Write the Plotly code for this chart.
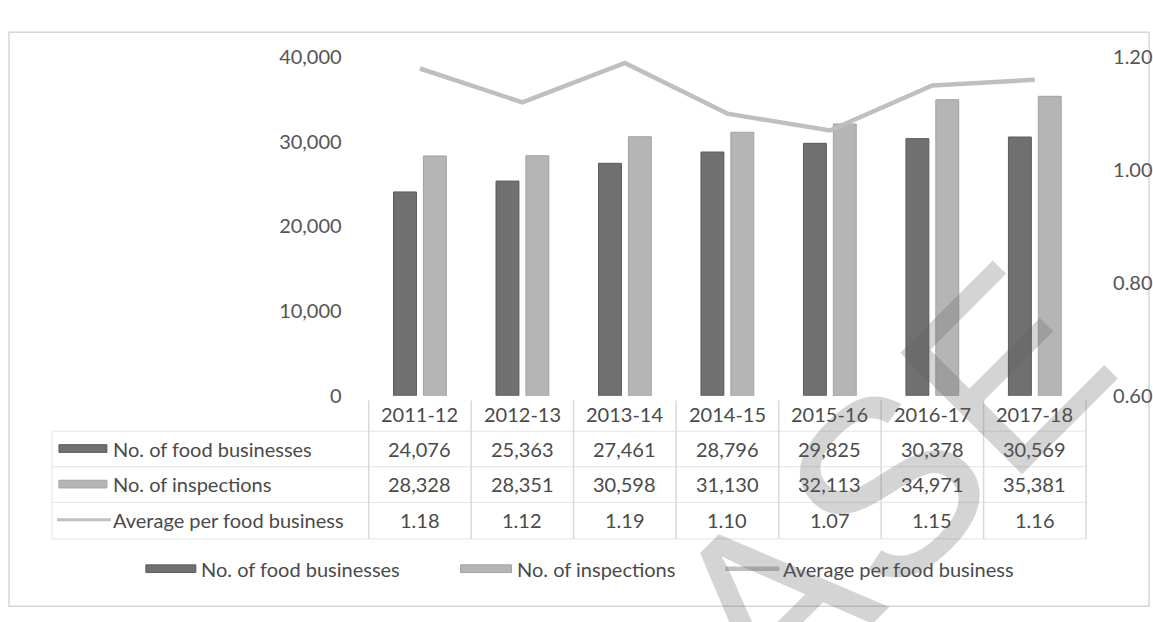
import plotly.graph_objects as go

# ---- data ----
years = ["2011-12", "2012-13", "2013-14", "2014-15", "2015-16", "2016-17", "2017-18"]
food_businesses = [24076, 25363, 27461, 28796, 29825, 30378, 30569]
inspections = [28328, 28351, 30598, 31130, 32113, 34971, 35381]
avg_per_business = [1.18, 1.12, 1.19, 1.10, 1.07, 1.15, 1.16]

series_names = ["No. of food businesses", "No. of inspections", "Average per food business"]
left_ticks = [0, 10000, 20000, 30000, 40000]
right_ticks = [0.60, 0.80, 1.00, 1.20]

# ---- styling ----
W, H = 1153, 622
FONT = "Lato"
FS = 20
TXT = "#4a4a4a"
DARK = "#707070"
DARK_EDGE = "#5a5a5a"
LIGHT = "#b5b5b5"
LIGHT_EDGE = "#a2a2a2"
LINE = "#bfbfbf"
GRID = "#e4e4e4"


def px(x):
    return x / W


def py(y):
    return 1 - y / H


PLOT_L, PLOT_R, PLOT_T, PLOT_B = 369, 1087, 46, 398

fig = go.Figure()
fig.add_trace(go.Bar(x=years, y=food_businesses, name=series_names[0],
                     marker=dict(color=DARK, line=dict(color=DARK_EDGE, width=1))))
fig.add_trace(go.Bar(x=years, y=inspections, name=series_names[1],
                     marker=dict(color=LIGHT, line=dict(color=LIGHT_EDGE, width=1))))
fig.add_trace(go.Scatter(x=years, y=avg_per_business, name=series_names[2], yaxis="y2",
                         mode="lines", line=dict(color=LINE, width=4.5)))

shapes = []
annotations = []

# outer chart frame
shapes.append(dict(type="rect", xref="paper", yref="paper",
                   x0=px(9), x1=px(1150), y0=py(617), y1=py(20),
                   line=dict(color="#d6d6d6", width=1.5), layer="below"))

# ---- data table under the plot ----
row_y = [417, 453, 490, 527]
h_lines = [435, 472, 509, 547]
for yy in h_lines:
    shapes.append(dict(type="line", xref="paper", yref="paper",
                       x0=px(52), x1=px(PLOT_R), y0=py(yy), y1=py(yy),
                       line=dict(color=GRID, width=1)))
shapes.append(dict(type="line", xref="paper", yref="paper",
                   x0=px(52), x1=px(52), y0=py(435), y1=py(547),
                   line=dict(color=GRID, width=1)))
col_w = (PLOT_R - PLOT_L) / len(years)
for i in range(len(years) + 1):
    xx = PLOT_L + i * col_w
    shapes.append(dict(type="line", xref="paper", yref="paper",
                       x0=px(xx), x1=px(xx), y0=py(403), y1=py(547),
                       line=dict(color="#d9d9d9", width=1.5)))

table_rows = [
    years,
    [f"{v:,}" for v in food_businesses],
    [f"{v:,}" for v in inspections],
    [f"{v:.2f}" for v in avg_per_business],
]
for r, vals in enumerate(table_rows):
    for i, t in enumerate(vals):
        annotations.append(dict(x=years[i], xref="x", y=py(row_y[r]), yref="paper",
                                text=t, showarrow=False, xanchor="center", yanchor="middle",
                                font=dict(family=FONT, size=FS, color=TXT)))

# row labels with series keys
for r, name in enumerate(series_names):
    yy = row_y[r + 1]
    if r < 2:
        col, edge = (DARK, DARK_EDGE) if r == 0 else (LIGHT, LIGHT_EDGE)
        shapes.append(dict(type="rect", xref="paper", yref="paper",
                           x0=px(59), x1=px(107), y0=py(yy + 4), y1=py(yy - 4),
                           fillcolor=col, line=dict(color=edge, width=1)))
    else:
        shapes.append(dict(type="line", xref="paper", yref="paper",
                           x0=px(57), x1=px(111), y0=py(yy), y1=py(yy),
                           line=dict(color=LINE, width=3)))
    annotations.append(dict(x=px(111), xref="paper", y=py(yy), yref="paper",
                            text=name, showarrow=False, xanchor="left", yanchor="middle",
                            font=dict(family=FONT, size=FS, color=TXT)))

# ---- legend row ----
legend_y = 578
legend_keys = [(146, 196, 199), (461, 512, 515), (726, 780, 782)]
for k, ((k0, k1, tx), name) in enumerate(zip(legend_keys, series_names)):
    if k < 2:
        col, edge = (DARK, DARK_EDGE) if k == 0 else (LIGHT, LIGHT_EDGE)
        shapes.append(dict(type="rect", xref="paper", yref="paper",
                           x0=px(k0), x1=px(k1), y0=py(legend_y + 4), y1=py(legend_y - 4),
                           fillcolor=col, line=dict(color=edge, width=1)))
    else:
        shapes.append(dict(type="line", xref="paper", yref="paper",
                           x0=px(k0), x1=px(k1), y0=py(legend_y), y1=py(legend_y),
                           line=dict(color=LINE, width=4.5)))
    annotations.append(dict(x=px(tx), xref="paper", y=py(legend_y), yref="paper",
                            text=name, showarrow=False, xanchor="left", yanchor="middle",
                            font=dict(family=FONT, size=FS, color=TXT)))

# large diagonal stamp across the lower right
annotations.append(dict(x=px(888), xref="paper", y=py(492), yref="paper",
                        text="ASE", showarrow=False, textangle=-45,
                        xanchor="center", yanchor="middle",
                        font=dict(family="Liberation Sans", size=250,
                                  color="rgba(95,95,95,0.27)")))

fig.update_layout(
    width=W, height=H,
    margin=dict(l=0, r=0, t=0, b=0),
    paper_bgcolor="white", plot_bgcolor="white",
    showlegend=False,
    barmode="group", bargap=0.417, bargroupgap=0.233,
    font=dict(family=FONT, size=FS, color=TXT),
    xaxis=dict(domain=[px(PLOT_L), px(PLOT_R)], type="category", range=[-0.5, 6.5],
               showticklabels=False, showgrid=False, zeroline=False, showline=False, ticks=""),
    yaxis=dict(domain=[py(PLOT_B), py(PLOT_T)], range=[0, 40000],
               tickvals=left_ticks, tickformat=",d", showgrid=False, zeroline=False,
               showline=False, ticks="outside", ticklen=22, tickcolor="rgba(0,0,0,0)",
               tickfont=dict(family=FONT, size=FS, color="#555555")),
    yaxis2=dict(overlaying="y", side="right", range=[0.6, 1.2],
                tickvals=right_ticks, tickformat=".2f", showgrid=False, zeroline=False,
                showline=False, ticks="outside", ticklen=22, tickcolor="rgba(0,0,0,0)",
                tickfont=dict(family=FONT, size=FS, color="#555555")),
    shapes=shapes,
    annotations=annotations,
)

fig.write_html("out.html")
